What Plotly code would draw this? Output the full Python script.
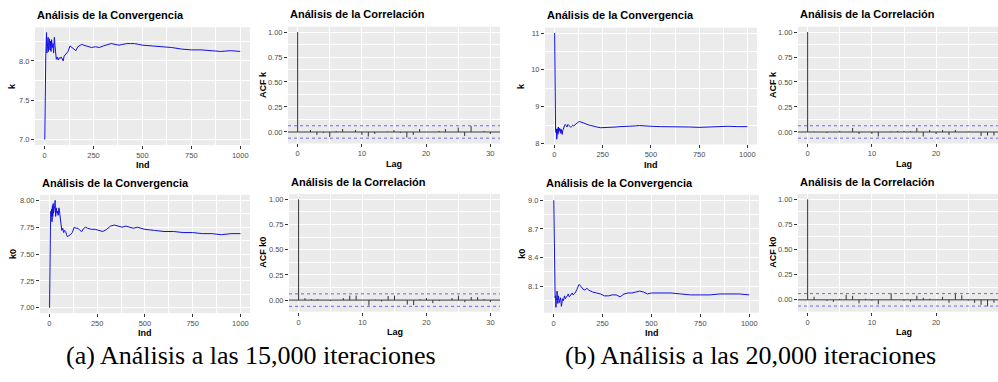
import plotly.graph_objects as go

W, H = 998, 382

# ---------------- data ----------------
ind = [1, 2, 3, 4, 5, 6, 8, 10, 12, 14, 16, 18, 20, 22, 25, 28, 30, 33, 36, 40, 43, 46, 50, 53, 56, 60,
       65, 70, 75, 80, 85, 90, 95, 100, 110, 120, 130, 140, 150, 160, 170, 180, 190, 200,
       220, 240, 260, 280, 300, 320, 340, 360, 380, 400, 420, 440, 460, 480, 500,
       550, 600, 650, 700, 750, 800, 850, 900, 950, 1000]

k_15 = [7.00, 7.75, 8.00, 7.80, 7.92, 8.05, 8.20, 8.36, 8.10, 8.26, 8.15, 8.30, 8.12, 8.22, 8.28, 8.14, 8.25, 8.12, 8.27, 8.17, 8.22, 8.10, 8.30, 8.20, 8.06, 8.02,
        8.05, 8.01, 8.04, 8.03, 8.05, 8.02, 8.00, 8.06, 8.09, 8.12, 8.19, 8.17, 8.15, 8.13, 8.18, 8.20, 8.21, 8.20,
        8.18, 8.17, 8.18, 8.17, 8.19, 8.21, 8.22, 8.21, 8.20, 8.21, 8.22, 8.22, 8.22, 8.21, 8.20,
        8.19, 8.18, 8.17, 8.15, 8.14, 8.14, 8.13, 8.12, 8.13, 8.12]

k0_15 = [7.00, 7.70, 7.60, 7.75, 7.62, 7.80, 7.90, 7.85, 7.92, 7.80, 7.95, 7.85, 7.97, 7.88, 7.92, 7.95, 8.00, 7.85, 7.93, 7.88, 7.90, 7.86, 7.93, 7.90, 7.85, 7.78,
         7.72, 7.74, 7.70, 7.72, 7.71, 7.68, 7.66, 7.67, 7.68, 7.70, 7.75, 7.74, 7.74, 7.72, 7.71, 7.74, 7.75, 7.74,
         7.73, 7.73, 7.72, 7.71, 7.73, 7.76, 7.77, 7.76, 7.75, 7.76, 7.75, 7.74, 7.75, 7.74, 7.73,
         7.72, 7.71, 7.71, 7.70, 7.70, 7.69, 7.69, 7.68, 7.69, 7.69]

k_20 = [11.00, 10.10, 9.00, 8.70, 8.40, 8.35, 8.30, 8.40, 8.12, 8.35, 8.40, 8.25, 8.45, 8.30, 8.42, 8.35, 8.40, 8.28, 8.38, 8.25, 8.35, 8.42, 8.45, 8.50, 8.52, 8.48,
        8.45, 8.52, 8.50, 8.46, 8.44, 8.47, 8.50, 8.48, 8.53, 8.57, 8.60, 8.58, 8.55, 8.52, 8.51, 8.50, 8.49, 8.47,
        8.45, 8.43, 8.43, 8.44, 8.45, 8.45, 8.46, 8.46, 8.47, 8.48, 8.48, 8.49, 8.49, 8.48, 8.47,
        8.46, 8.46, 8.47, 8.45, 8.44, 8.45, 8.47, 8.47, 8.46, 8.46]

k0_20 = [9.00, 8.80, 8.35, 8.10, 8.01, 8.00, 7.98, 8.00, 7.88, 7.95, 7.98, 8.05, 7.95, 7.92, 8.00, 7.96, 7.93, 7.96, 7.98, 7.89, 7.95, 7.97, 7.95, 7.98, 8.00, 7.97,
         7.98, 8.00, 8.02, 7.99, 8.00, 8.02, 8.03, 8.01, 8.03, 8.07, 8.12, 8.10, 8.07, 8.06, 8.08, 8.06, 8.05, 8.04,
         8.03, 8.02, 8.00, 8.00, 8.01, 8.01, 7.99, 8.02, 8.03, 8.03, 8.04, 8.05, 8.04, 8.02, 8.03,
         8.03, 8.03, 8.02, 8.01, 8.01, 8.01, 8.02, 8.02, 8.02, 8.01]

lag = list(range(31))
acf_k_15 = [1.0, 0.0, 0.02, -0.03, -0.01, -0.05, 0.01, 0.03, 0.0, 0.02, -0.03, -0.045, -0.02, 0.0, 0.005, 0.02,
            -0.01, -0.055, -0.03, 0.03, 0.0, 0.0, 0.01, 0.03, 0.0, 0.045, -0.04, 0.06, 0.0, 0.01, -0.02]
acf_k0_15 = [1.0, 0.02, 0.01, 0.01, 0.0, -0.01, 0.0, 0.02, 0.045, 0.045, 0.0, -0.055, 0.005, -0.015, 0.04, 0.045,
             0.0, -0.045, -0.05, 0.01, 0.02, -0.03, -0.01, 0.0, 0.02, 0.045, -0.02, 0.03, 0.03, 0.01, -0.02]
acf_k_20 = [1.0, 0.005, 0.0, -0.01, 0.0, 0.01, 0.0, 0.04, -0.02, 0.0, -0.02, -0.045, 0.0, 0.005, 0.01, 0.01,
            0.01, 0.04, -0.045, 0.02, -0.02, 0.02, -0.03, 0.02, 0.0, 0.005, 0.0, -0.04, -0.035, -0.035, -0.02]
acf_k0_20 = [1.0, 0.03, 0.0, -0.01, -0.02, 0.01, 0.05, 0.04, -0.035, 0.01, -0.01, -0.045, 0.0, 0.065, 0.0, -0.01,
             -0.02, 0.04, 0.02, 0.01, 0.0, 0.03, -0.03, 0.07, 0.045, -0.01, -0.03, -0.05, -0.065, -0.03, -0.02]
ci_bound = 0.062

conv_title = "Análisis de la Convergencia"
corr_title = "Análisis de la Correlación"
x_conv_label = "Ind"
x_acf_label = "Lag"
captions = ["(a) Análisis a las 15,000 iteraciones", "(b) Análisis a las 20,000 iteraciones"]

# ---------------- layout specs (pixel boxes) ----------------
panels = [
    dict(kind="conv", y=k_15, ylab="k", box=(35, 250, 27.5, 146.5), ytick0=7.0, ydt=0.5, yfmt=".1f", ylabx=12),
    dict(kind="acf", y=acf_k_15, ylab="ACF k", box=(288, 500, 27, 145), ylabx=263),
    dict(kind="conv", y=k_20, ylab="k", box=(545, 757, 28, 146), ytick0=8, ydt=1, yfmt="d", ylabx=521),
    dict(kind="acf", y=acf_k_20, ylab="ACF k", box=(798, 1010, 27, 145), ylabx=773),
    dict(kind="conv", y=k0_15, ylab="k0", box=(40, 250, 197, 316.5), ytick0=7.0, ydt=0.25, yfmt=".2f", ylabx=13),
    dict(kind="acf", y=acf_k0_15, ylab="ACF k0", box=(289, 500, 196, 315), ylabx=263),
    dict(kind="conv", y=k0_20, ylab="k0", box=(544, 759, 197, 316), ytick0=8.1, ydt=0.3, yfmt=".1f", ylabx=522),
    dict(kind="acf", y=acf_k0_20, ylab="ACF k0", box=(798, 1010, 196, 315), ylabx=773),
]

PANEL_BG = "#EBEBEB"
TICK_FONT = dict(family="Liberation Sans, Arial, sans-serif", size=7.5, color="#4D4D4D")
LAB_FONT = dict(family="Liberation Sans, Arial, sans-serif", size=9, color="black", weight="bold")
TITLE_FONT = dict(family="Liberation Sans, Arial, sans-serif", size=11, color="black", weight="bold")


def expand(lo, hi, f=0.05):
    d = (hi - lo) * f
    return [lo - d, hi + d]


fig = go.Figure()
layout = dict(width=W, height=H, margin=dict(l=0, r=0, t=0, b=0),
              paper_bgcolor="white", plot_bgcolor=PANEL_BG, showlegend=False)
annotations = []
shapes = []

for i, p in enumerate(panels, start=1):
    xa = "xaxis" if i == 1 else f"xaxis{i}"
    ya = "yaxis" if i == 1 else f"yaxis{i}"
    xr = "x" if i == 1 else f"x{i}"
    yr = "y" if i == 1 else f"y{i}"
    x0, x1, y0, y1 = p["box"]
    frac = 1.0
    if x1 > W:
        frac = (W - x0) / (x1 - x0)
        x1v = W
    else:
        x1v = x1
    xdom = [x0 / W, x1v / W]
    ydom = [1 - y1 / H, 1 - y0 / H]

    common = dict(showline=False, zeroline=False, ticks="outside", ticklen=3, tickwidth=1,
                  tickcolor="#333333", tickfont=TICK_FONT, showgrid=True, gridcolor="white",
                  gridwidth=1.1)

    if p["kind"] == "conv":
        fig.add_trace(go.Scatter(x=ind, y=p["y"], mode="lines", xaxis=xr, yaxis=yr,
                                 line=dict(color="#1010E0", width=1), hoverinfo="skip"))
        xrange = expand(min(ind), max(ind))
        yrange = expand(min(p["y"]), max(p["y"]))
        layout[xa] = dict(domain=xdom, anchor=yr, range=xrange, tickmode="linear", tick0=0, dtick=250,
                          minor=dict(tick0=0, dtick=125, showgrid=True, gridcolor="white", gridwidth=0.5),
                          **common)
        layout[ya] = dict(domain=ydom, anchor=xr, range=yrange, tickmode="linear", tick0=p["ytick0"],
                          dtick=p["ydt"], tickformat=p["yfmt"],
                          minor=dict(tick0=p["ytick0"], dtick=p["ydt"] / 2, showgrid=True,
                                     gridcolor="white", gridwidth=0.5),
                          **common)
        title = conv_title
        xlab = x_conv_label
    else:
        xs, ys = [], []
        for lg, v in zip(lag, p["y"]):
            xs += [lg, lg, None]
            ys += [0, v, None]
        fig.add_trace(go.Scatter(x=xs, y=ys, mode="lines", xaxis=xr, yaxis=yr,
                                 line=dict(color="#333333", width=1), hoverinfo="skip"))
        xrange_full = expand(min(lag), max(lag))
        xrange = [xrange_full[0], xrange_full[0] + (xrange_full[1] - xrange_full[0]) * frac]
        yrange = expand(min(min(p["y"]), -ci_bound), max(max(p["y"]), ci_bound))
        layout[xa] = dict(domain=xdom, anchor=yr, range=xrange, tickmode="linear", tick0=0, dtick=10,
                          minor=dict(tick0=0, dtick=5, showgrid=True, gridcolor="white", gridwidth=0.5),
                          **common)
        layout[ya] = dict(domain=ydom, anchor=xr, range=yrange, tickmode="linear", tick0=0, dtick=0.25,
                          tickformat=".2f",
                          minor=dict(tick0=0, dtick=0.125, showgrid=True, gridcolor="white", gridwidth=0.5),
                          **common)
        shapes.append(dict(type="line", xref=f"{xr} domain", yref=yr, x0=0, x1=1, y0=0, y1=0,
                           line=dict(color="#333333", width=1), layer="above"))
        for s in (ci_bound, -ci_bound):
            shapes.append(dict(type="line", xref=f"{xr} domain", yref=yr, x0=0, x1=1, y0=s, y1=s,
                               line=dict(color="#6A6AF0", width=1, dash="dot"), layer="above"))
        title = corr_title
        xlab = x_acf_label

    # panel title
    annotations.append(dict(text=title, xref="paper", yref="paper", x=x0 / W, y=1 - (y0 - 12.5) / H,
                            xanchor="left", yanchor="middle", showarrow=False, font=TITLE_FONT))
    # x label
    xc = (x0 + x1) / 2
    annotations.append(dict(text=xlab, xref="paper", yref="paper", x=xc / W, y=1 - (y1 + 20.5) / H,
                            xanchor="center", yanchor="middle", showarrow=False, font=LAB_FONT))
    # y label
    annotations.append(dict(text=p["ylab"], xref="paper", yref="paper", x=p["ylabx"] / W,
                            y=1 - ((y0 + y1) / 2) / H, xanchor="center", yanchor="middle",
                            textangle=-90, showarrow=False, font=LAB_FONT))

CAP_FONT = dict(family="Liberation Serif, Times New Roman, serif", size=26, color="black")
for cx, cap in zip((251, 750), captions):
    annotations.append(dict(text=cap, xref="paper", yref="paper", x=cx / W, y=1 - 359 / H,
                            xanchor="center", yanchor="middle", showarrow=False, font=CAP_FONT))

layout["annotations"] = annotations
layout["shapes"] = shapes
fig.update_layout(**layout)
fig.write_html("out.html")
